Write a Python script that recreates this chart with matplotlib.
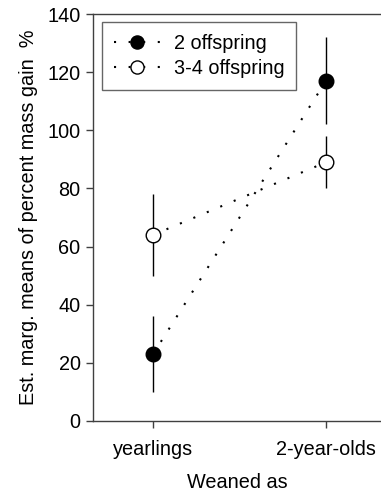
import matplotlib
matplotlib.use("Agg")
import matplotlib.pyplot as plt

plt.rcParams['font.family'] = ['Liberation Sans', 'DejaVu Sans']

categories = ["yearlings", "2-year-olds"]
two_offspring = [23, 117]
two_lo = [10, 102]
two_hi = [36, 132]
three_four = [64, 89]
three_lo = [50, 80]
three_hi = [78, 98]
yticks = [0, 20, 40, 60, 80, 100, 120, 140]

fig = plt.figure(figsize=(3.81, 4.95), dpi=100)
ax = fig.add_axes([93/381, 1-421/495, 1-93/381, (421-14)/495])

x = list(range(len(categories)))
fs = 14.3

def err(vals, lo, hi):
    return [[v - l for v, l in zip(vals, lo)], [h - v for v, h in zip(vals, hi)]]

ax.errorbar(x, two_offspring, yerr=err(two_offspring, two_lo, two_hi), fmt='none',
            ecolor='black', elinewidth=1, capsize=0, zorder=2)
ax.errorbar(x, three_four, yerr=err(three_four, three_lo, three_hi), fmt='none',
            ecolor='black', elinewidth=1, capsize=0, zorder=2)
ax.plot(x, two_offspring, linestyle=(0, (1, 6)), lw=1.5, color='black', marker='o',
        markersize=10.5, markerfacecolor='black', markeredgecolor='black',
        label='2 offspring', zorder=3)
ax.plot(x, three_four, linestyle=(0, (1, 6)), lw=1.5, color='black', marker='o',
        markersize=10.5, markerfacecolor='white', markeredgecolor='black', markeredgewidth=1,
        label='3-4 offspring', zorder=3)

ax.set_xlim(-0.347, 1.318)
ax.set_ylim(0, 140)
ax.set_yticks(yticks)
ax.set_xticks(x)
ax.set_xticklabels(categories, fontsize=fs)
ax.tick_params(axis='y', labelsize=fs, direction='out', length=5, width=1, color='#404040', pad=4)
ax.tick_params(axis='x', direction='out', length=5, width=1, color='#404040', pad=9)
for s in ['left', 'bottom', 'top']:
    ax.spines[s].set_color('#404040')
    ax.spines[s].set_linewidth(1)
ax.spines['right'].set_visible(False)

ax.set_xlabel("Weaned as", fontsize=fs, labelpad=10)
ax.set_ylabel("Est. marg. means of percent mass gain  %", fontsize=fs, labelpad=7)

leg = ax.legend(loc='upper left', bbox_to_anchor=(9/288, 1 - 8/407), fontsize=fs, frameon=True,
                fancybox=False, edgecolor='#404040', handlelength=2.3, borderpad=0.6,
                borderaxespad=0, labelspacing=0.32, handletextpad=0.7, markerscale=0.9)
leg.get_frame().set_linewidth(1)

fig.savefig("out.png", dpi=100)
